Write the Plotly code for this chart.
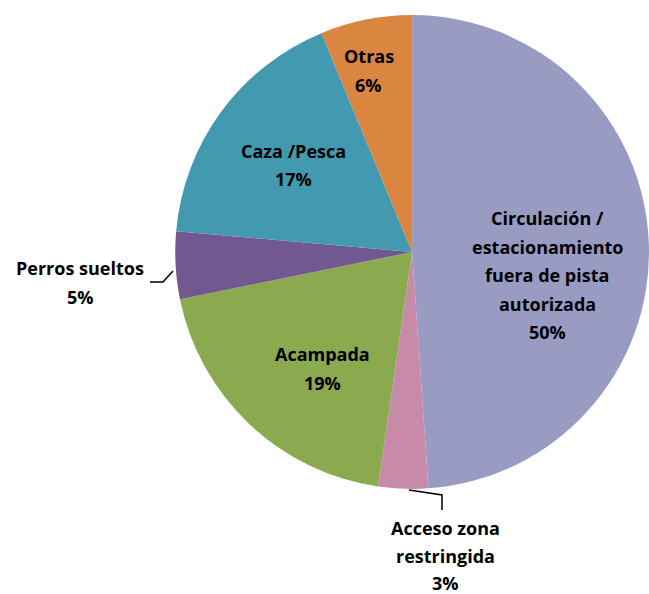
import plotly.graph_objects as go

categories = ["Circulación / estacionamiento fuera de pista autorizada",
              "Acceso zona restringida", "Acampada", "Perros sueltos",
              "Caza /Pesca", "Otras"]
values = [48.9, 3.4, 19.5, 4.6, 17.35, 6.25]
pct_labels = ["50%", "3%", "19%", "5%", "17%", "6%"]
label_lines = [["Circulación /", "estacionamiento", "fuera de pista", "autorizada"],
               ["Acceso zona", "restringida"],
               ["Acampada"],
               ["Perros sueltos"],
               ["Caza /Pesca"],
               ["Otras"]]
colors = ["#9A9BC3", "#C78AA9", "#8BA94F", "#71598F", "#4299B0", "#DB8640"]

# label block positions (paper coords: x center, y of first line), line step
label_pos = [(547 / 649, 218), (445 / 649, 528), (322 / 649, 354),
             (80 / 649, 268), (293 / 649, 151), (369 / 649, 56)]
line_steps = [28.5, 27.5, 28.5, 28.5, 28.5, 28.5]

fig = go.Figure(go.Pie(
    labels=categories, values=values, sort=False, direction="clockwise",
    rotation=0, marker=dict(colors=colors, line=dict(width=0)),
    textinfo="none", hoverinfo="label+percent", showlegend=False,
    domain=dict(x=[0.27, 1.0], y=[1 - 489 / 594, 1 - 15 / 594]),
))

font = dict(family="'Open Sans', 'Noto Sans', sans-serif", size=18, color="#000000")
for lines, pct, (x, y0), step in zip(label_lines, pct_labels, label_pos, line_steps):
    all_lines = lines + [pct]
    for i, t in enumerate(all_lines):
        fig.add_annotation(x=x, y=1 - (y0 + i * step) / 594, xref="paper", yref="paper",
                           text=f"<b>{t}</b>", showarrow=False, font=font,
                           xanchor="center", yanchor="middle")

# leader lines for outside labels
fig.add_shape(type="path", xref="paper", yref="paper",
              path=f"M {150/649} {1-282/594} L {163/649} {1-282/594} L {173/649} {1-271/594}",
              line=dict(color="#000000", width=1.5))
fig.add_shape(type="path", xref="paper", yref="paper",
              path=f"M {409/649} {1-490/594} L {442/649} {1-495/594} L {442/649} {1-510/594}",
              line=dict(color="#000000", width=1.5))

fig.update_layout(width=649, height=594, margin=dict(l=0, r=0, t=0, b=0),
                  paper_bgcolor="white", plot_bgcolor="white")
fig.write_html("out.html", config={"displayModeBar": False},
               post_script="document.body.style.margin='0';document.body.style.overflow='hidden';")
